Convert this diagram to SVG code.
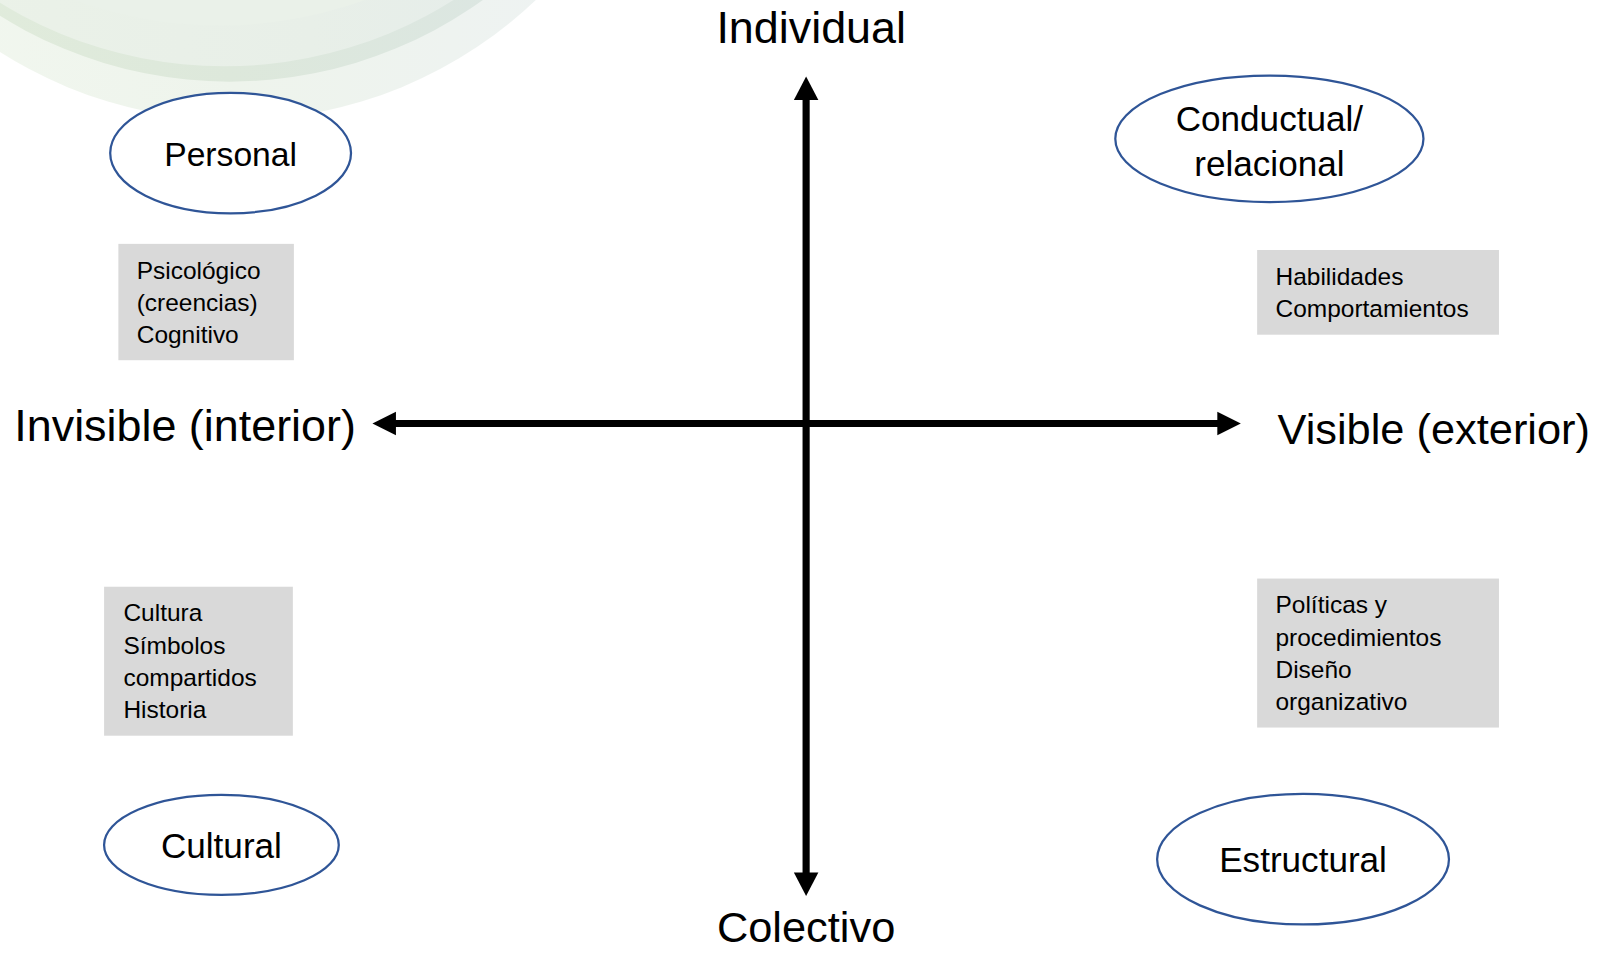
<svg xmlns="http://www.w3.org/2000/svg" width="1600" height="953" viewBox="0 0 1600 953">
<defs>
<linearGradient id="bgA" x1="0" y1="0" x2="1" y2="0">
<stop offset="0" stop-color="#f3f8f0"/>
<stop offset="0.5" stop-color="#eef4ec"/>
<stop offset="1" stop-color="#eef2f4"/>
</linearGradient>
<linearGradient id="bgB" x1="0" y1="0" x2="1" y2="0">
<stop offset="0" stop-color="#e3eedc"/>
<stop offset="0.5" stop-color="#dde8db"/>
<stop offset="1" stop-color="#dbe5e6"/>
</linearGradient>
<linearGradient id="bgC" x1="0" y1="0" x2="1" y2="0">
<stop offset="0" stop-color="#ecf3e8"/>
<stop offset="0.6" stop-color="#e8efe8"/>
<stop offset="1" stop-color="#e4ecec"/>
</linearGradient>
</defs>
<style>
.ell{fill:#fff;stroke:#2F5597;stroke-width:2.2}
.box{fill:#D9D9D9}
.big{font-family:"Liberation Sans",Arial,sans-serif;font-size:44px;fill:#000}
.lab{font-family:"Liberation Sans",Arial,sans-serif;font-size:34.4px;fill:#000;text-anchor:middle}
.sm{font-family:"Liberation Sans",Arial,sans-serif;font-size:24px;fill:#000}
.axis{stroke:#000;stroke-width:7;fill:none}
.head{fill:#000}
</style>
<g transform="scale(1.0204)">
<g id="background">
<circle cx="230" cy="-310" r="428" fill="url(#bgA)"/>
<circle cx="225" cy="-345" r="425" fill="url(#bgB)"/>
<circle cx="220" cy="-355" r="420" fill="url(#bgC)"/>
<circle cx="215" cy="-395" r="420" fill="#eaf1e9"/>
</g>
<g id="connectors">
<line class="axis" x1="790" y1="96" x2="790" y2="857"/>
<polygon class="head" points="790,75 778,98 802,98"/>
<polygon class="head" points="790,878 778,855 802,855"/>
<line class="axis" x1="386" y1="415" x2="1195" y2="415"/>
<polygon class="head" points="365,415 388,403.5 388,426.5"/>
<polygon class="head" points="1216,415 1193,403.5 1193,426.5"/>
</g>
<g id="axis-labels">
<text class="big" x="795" y="42" text-anchor="middle">Individual</text>
<text class="big" x="790" y="923" text-anchor="middle" style="font-size:42.5px">Colectivo</text>
<text class="big" x="14" y="432">Invisible (interior)</text>
<text class="big" x="1252" y="435" style="font-size:42.5px">Visible (exterior)</text>
</g>
<g id="personal">
<ellipse class="ell" cx="226" cy="150" rx="118" ry="59"/>
<text class="lab" x="226" y="163" style="font-size:33px">Personal</text>
</g>
<g id="conductual">
<ellipse class="ell" cx="1244" cy="136" rx="151" ry="62"/>
<text class="lab" x="1244" y="128">Conductual/</text>
<text class="lab" x="1244" y="172">relacional</text>
</g>
<g id="cultural">
<ellipse class="ell" cx="217" cy="828" rx="115" ry="49"/>
<text class="lab" x="217" y="841">Cultural</text>
</g>
<g id="estructural">
<ellipse class="ell" cx="1277" cy="842" rx="143" ry="64"/>
<text class="lab" x="1277" y="855">Estructural</text>
</g>
<g id="box-personal">
<rect class="box" x="116" y="239" width="172" height="114"/>
<text class="sm" x="134" y="273">Psicológico</text>
<text class="sm" x="134" y="305">(creencias)</text>
<text class="sm" x="134" y="336">Cognitivo</text>
</g>
<g id="box-conductual">
<rect class="box" x="1232" y="245" width="237" height="83"/>
<text class="sm" x="1250" y="279">Habilidades</text>
<text class="sm" x="1250" y="311">Comportamientos</text>
</g>
<g id="box-cultural">
<rect class="box" x="102" y="575" width="185" height="146"/>
<text class="sm" x="121" y="609">Cultura</text>
<text class="sm" x="121" y="641">Símbolos</text>
<text class="sm" x="121" y="672">compartidos</text>
<text class="sm" x="121" y="704">Historia</text>
</g>
<g id="box-estructural">
<rect class="box" x="1232" y="567" width="237" height="146"/>
<text class="sm" x="1250" y="601">Políticas y</text>
<text class="sm" x="1250" y="633">procedimientos</text>
<text class="sm" x="1250" y="664">Diseño</text>
<text class="sm" x="1250" y="696">organizativo</text>
</g>
</g>
</svg>
